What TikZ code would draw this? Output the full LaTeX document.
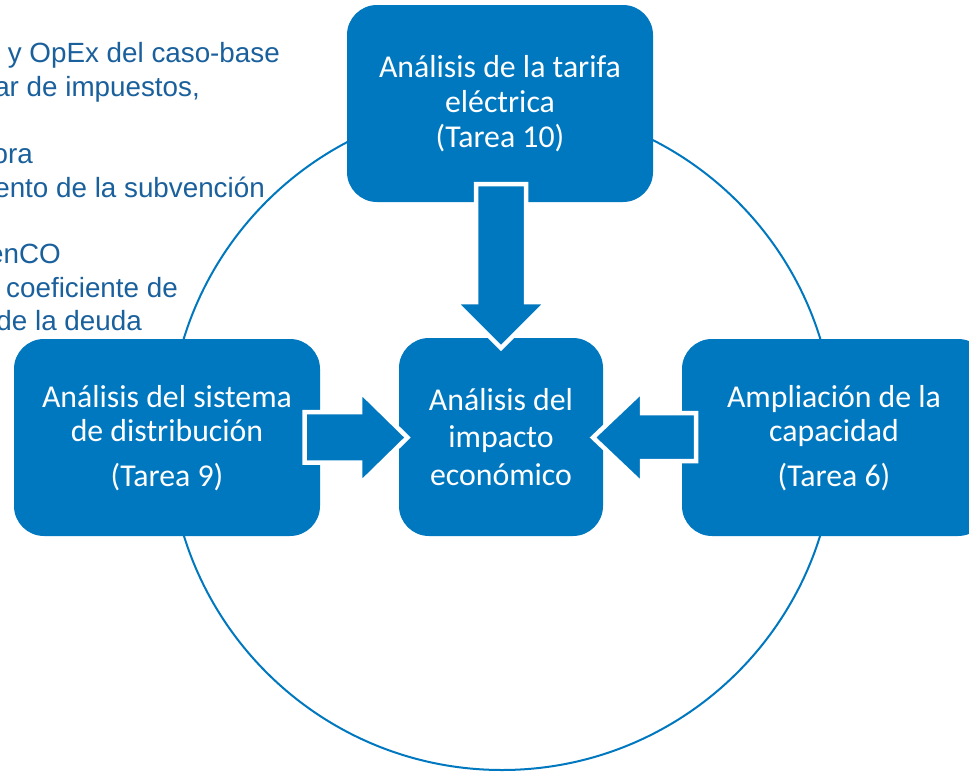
\documentclass[tikz,border=0pt]{standalone}
\usepackage{fontspec}
\setmainfont{Carlito}
\newfontfamily\arialfont{Liberation Sans}
\definecolor{boxblue}{RGB}{0,120,192}
\definecolor{txtblue}{RGB}{26,96,156}
\tikzset{
  bluebox/.style={fill=boxblue, draw=none, rounded corners=30pt},
  boxtext/.style={text=white, inner sep=0pt, anchor=base, font=\fontsize{31.8}{36}\selectfont},
  sidetext/.style={text=txtblue, inner sep=0pt, anchor=base east, font=\arialfont\fontsize{27.8}{32}\selectfont},
  blockarrow/.style={fill=boxblue, draw=white, line width=4.5pt, line join=miter},
  ring/.style={draw=boxblue, line width=2pt}
}
\begin{document}
\begin{tikzpicture}[x=1pt,y=-1pt]
\useasboundingbox (0,0) rectangle (969,771);
\clip (0,0) rectangle (969,771);
\fill[white] (0,0) rectangle (969,771);
% side text (cut off on the left)
\node[sidetext] (s1) at (280,62) {y OpEx del caso-base};
\node[sidetext] (s2) at (200,96) {ar de impuestos,};
\node[sidetext] (s3) at (33,163) {ora};
\node[sidetext] (s4) at (265,197) {ento de la subvención};
\node[sidetext] (s5) at (61,263) {enCO};
\node[sidetext] (s6) at (178,297) {coeficiente de};
\node[sidetext] (s7) at (142,330) {de la deuda};
% ring
\draw[ring] (502,437) circle[radius=333pt];
% boxes
\path[bluebox] (347,5) rectangle (653,202);
\path[bluebox] (14,339) rectangle (320,536);
\path[bluebox] (682,339) rectangle (988,536);
\path[bluebox] (399,338) rectangle (603,536);
% arrows
\draw[blockarrow] (476,184) -- (526,184) -- (526,302) -- (547,302) -- (501,348) -- (455,302) -- (476,302) -- cycle;
\draw[blockarrow] (304.5,412) -- (360,412) -- (360,391) -- (407.5,437.5) -- (360,484) -- (360,462.5) -- (304.5,462.5) -- cycle;
\draw[blockarrow] (696,413) -- (642,413) -- (642,391) -- (593,437.5) -- (642,484) -- (642,461) -- (696,461) -- cycle;
% texts
\node[boxtext] (t1) at (500,77) {Análisis de la tarifa};
\node[boxtext] (t2) at (500,112) {eléctrica};
\node[boxtext] (t3) at (500,147) {(Tarea 10)};
\node[boxtext] (l1) at (167,407) {Análisis del sistema};
\node[boxtext] (l2) at (167,441) {de distribución};
\node[boxtext] (l3) at (167,486) {(Tarea 9)};
\node[boxtext] (r1) at (834,407) {Ampliación de la};
\node[boxtext] (r2) at (834,441) {capacidad};
\node[boxtext] (r3) at (834,486) {(Tarea 6)};
\node[boxtext] (c1) at (501,410) {Análisis del};
\node[boxtext] (c2) at (501,447) {impacto};
\node[boxtext] (c3) at (501,485) {económico};
\end{tikzpicture}
\end{document}
